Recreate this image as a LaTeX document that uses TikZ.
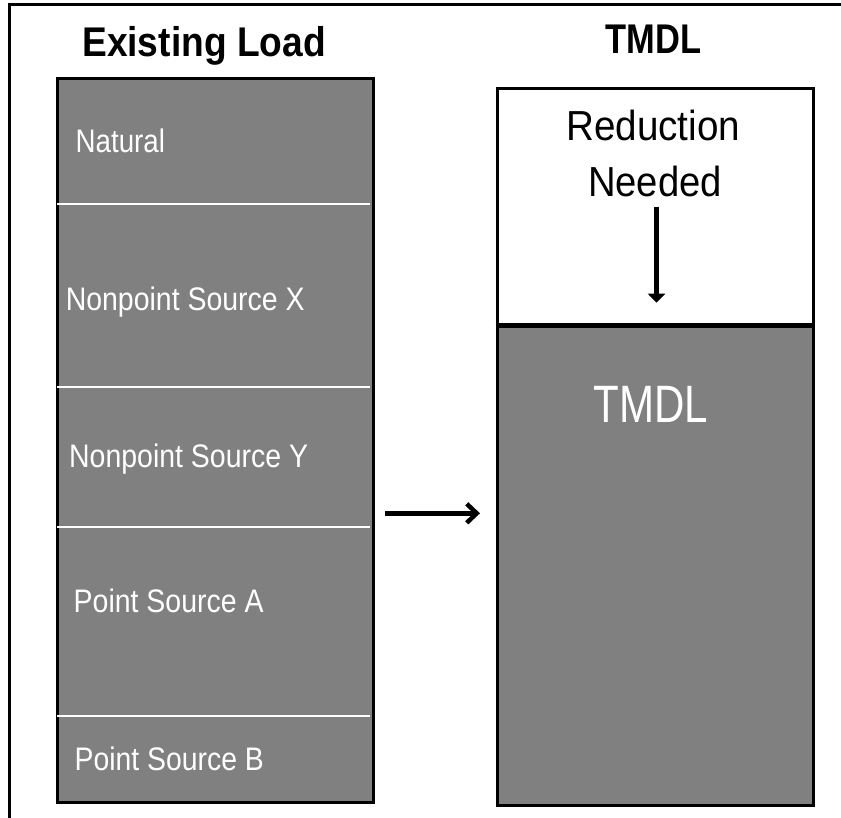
\documentclass[tikz,border=0pt]{standalone}
\usepackage{fontspec}
\setmainfont{Liberation Sans}
\usetikzlibrary{arrows.meta}
\definecolor{boxgray}{RGB}{128,128,128}
\newcommand{\fsz}[1]{\fontsize{#1}{#1}\selectfont}
\newcommand{\sx}[2]{\scalebox{#1}[1]{#2}}
\begin{document}
\begin{tikzpicture}[x=1pt,y=-1pt,
  titletext/.style={inner sep=0pt, anchor=base, font=\bfseries\fsz{41.5}},
  blacktext/.style={inner sep=0pt, anchor=base, font=\fsz{42}},
  loadtext/.style={inner sep=0pt, anchor=base west, text=white, font=\fsz{32.6}},
  boxpart/.style={draw=black, line width=2.8pt, inner sep=0pt, anchor=north west, minimum width=316pt},
  divider/.style={draw=white, line width=2.2pt},
  conn/.style={draw=black, line width=4.5pt}
]
\useasboundingbox (0,0) rectangle (841,817);
\fill[white] (0,0) rectangle (841,817);
% outer frame (only left and top sides are inside the picture)
\draw[line width=3pt] (9.3,830) -- (9.3,4.5) -- (850,4.5);

% titles
\node[titletext] (tload) at (204,56.7) {\sx{0.895}{Existing Load}};
\node[titletext] (ttmdl) at (653.3,53.3) {\sx{0.83}{TMDL}};

% existing load column
\node[boxpart, fill=boxgray, minimum height=724pt] (load) at (55.7,76.7) {};
\draw[divider] (57,204) -- (370.4,204);
\draw[divider] (57,387) -- (370.4,387);
\draw[divider] (57,527) -- (370.4,527);
\draw[divider] (57,715.7) -- (370.4,715.7);

\node[loadtext] (natural) at (75.5,152.3) {\sx{0.85}{Natural}};
\node[loadtext] (npsx) at (65.6,310) {\sx{0.873}{Nonpoint Source X}};
\node[loadtext] (npsy) at (69,467) {\sx{0.873}{Nonpoint Source Y}};
\node[loadtext] (psa) at (73.5,612.3) {\sx{0.873}{Point Source A}};
\node[loadtext] (psb) at (74.5,770.7) {\sx{0.87}{Point Source B}};

% TMDL column
\node[boxpart, fill=white, minimum height=236.6pt] (reduc) at (495.7,86.7) {};
\node[boxpart, fill=boxgray, minimum height=481pt] (tmdlbox) at (495.7,323.3) {};
\draw[line width=4.2pt] (reduc.south west) -- (reduc.south east);

\node[blacktext] (reduction) at (653.3,140) {\sx{0.92}{Reduction}};
\node[blacktext] (needed) at (655,196.7) {\sx{0.91}{Needed}};
\node[inner sep=0pt, anchor=base, text=white, font=\fsz{52.6}] (tmdllabel) at (650.8,422.7) {\sx{0.80}{TMDL}};

% arrows
\coordinate (d1) at (656.5,206.7);
\coordinate (d2) at (656.5,302.7);
\draw[conn, -{Triangle[length=9pt,width=17pt]}] (d1) -- (d2);

\coordinate (h1) at (385,513.3);
\coordinate (h2) at (480,513.3);
\draw[conn, -{Straight Barb[length=10pt,width=19pt]}] (h1) -- (h2);
\end{tikzpicture}
\end{document}
